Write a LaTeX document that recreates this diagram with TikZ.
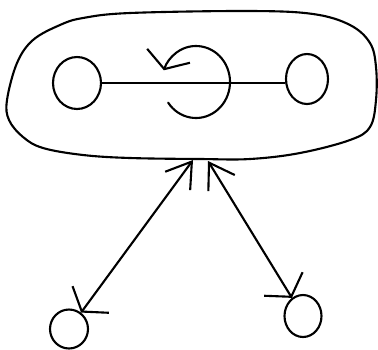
\documentclass[tikz,border=0pt]{standalone}
\usetikzlibrary{arrows.meta,shapes.geometric}
\tikzset{
  upbarb/.tip={Straight Barb[length=0.48cm,width=0.62cm]},
  lowbarb/.tip={Straight Barb[length=0.3cm,width=0.9cm]},
  spinbarb/.tip={Straight Barb[length=0.28cm,width=0.9cm]},
}
\begin{document}
\begin{tikzpicture}[x=0.02cm, y=-0.02cm, line width=1.2pt, line cap=round, line join=round,
  every node/.style={ellipse,draw,line width=1.2pt,inner sep=0pt}]
  \useasboundingbox (0,0) rectangle (378,349);
  % outer blob
  \draw plot[smooth cycle, tension=0.6] coordinates {(130,13) (250,11) (313,14) (350,25) (370,43)
    (376,67) (376,100) (370,127) (350,140) (300,153) (250,159) (200,159) (130,158) (83,155)
    (43,148) (23,137) (9,120) (7,100) (17,63) (33,40) (60,25) (83,18)};
  \node[minimum width=0.96cm,minimum height=1.04cm] (lin) at (77,83) {};
  \node[minimum width=0.84cm,minimum height=1cm] (rin) at (307,79) {};
  \node[minimum width=0.76cm,minimum height=0.78cm] (bl) at (69,329) {};
  \node[minimum width=0.74cm,minimum height=0.84cm] (br) at (303,316) {};
  \coordinate (tl) at (193,160); \coordinate (tr) at (208,161);
  \draw (lin.east) -- (lin.east -| rin.west);
  \draw[-spinbarb] (196,82) ++(145:34 and 36) arc[start angle=145,end angle=-161,x radius=34,y radius=36];
  \draw[lowbarb-upbarb] (bl) -- (tl);
  \draw[lowbarb-upbarb] (br) -- (tr);
\end{tikzpicture}
\end{document}
